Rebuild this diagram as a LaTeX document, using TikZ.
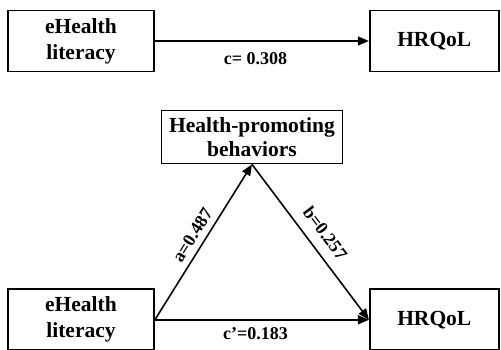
\documentclass[tikz,border=0pt]{standalone}
\usepackage{fontspec}
\setmainfont{Liberation Serif}
\usepackage{tikz}
\usetikzlibrary{arrows.meta,positioning}

\begin{document}
\begin{tikzpicture}[x=1pt,y=-1pt,
  box/.style={draw, line width=1.8pt, align=center, inner sep=2pt,
    minimum height=61pt, font=\bfseries\fontsize{21.5}{26}\selectfont},
  lbl/.style={font=\bfseries\fontsize{18}{20}\selectfont, inner sep=3pt},
  >={Triangle[length=11pt,width=9pt]},
  every path/.append style={line width=1.6pt}]
\useasboundingbox (0,0) rectangle (501,350);

\node (A) [box, minimum width=146pt] at (81,41) {eHealth\\literacy};
\node (B) [box, minimum width=129pt, right=214pt of A] {HRQoL};
\node (D) [box, minimum width=146pt, below=216pt of A] {eHealth\\literacy};
\node (E) [box, minimum width=129pt, right=214pt of D] {HRQoL};
\node (C) [box, minimum width=181pt, minimum height=53pt,
  font=\bfseries\fontsize{21.5}{24}\selectfont] at (252,137) {Health-promoting\\behaviors};

\draw[->] (A) -- node[lbl, below=8pt, pos=0.47] {c= 0.308} (B);
\draw[->] (D.east) -- node[lbl, below=4pt, pos=0.47] {c’=0.183} (E.west);
\draw[->] (D.east) -- node[lbl, sloped, above=3pt] {a=0.487} (C.south);
\draw[->] (C.south) -- node[lbl, sloped, above=7pt, pos=0.51] {b=0.257} (E.west);

\end{tikzpicture}
\end{document}
